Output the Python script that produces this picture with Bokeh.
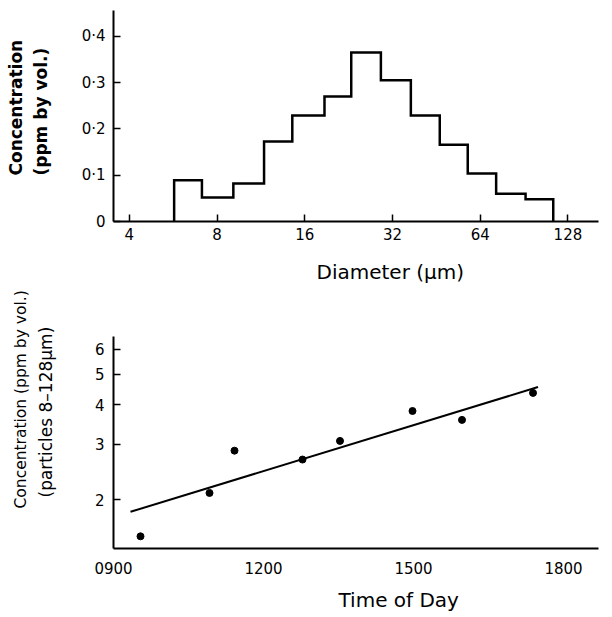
from bokeh.plotting import figure
from bokeh.models import FixedTicker, Title, LinearAxis
from bokeh.layouts import column
from bokeh.embed import file_html
from bokeh.resources import INLINE

FONT = "DejaVu Sans"

# ---- Top panel: size distribution (histogram, third-octave bins) ----
bin_edges_um = [5.7, 7.1, 9.1, 11.6, 14.5, 18.7, 23.1, 29.2, 37.0, 46.5, 58.0, 72.6, 91.6, 114.0]
bin_conc_ppm = [0.089, 0.052, 0.082, 0.173, 0.229, 0.270, 0.365, 0.305, 0.229, 0.166, 0.104, 0.060, 0.048]
diam_ticks = [4, 8, 16, 32, 64, 128]
diam_tick_labels = ["4", "8", "16", "32", "64", "128"]
conc_ticks = [0, 0.1, 0.2, 0.3, 0.4]
conc_tick_labels = ["0", "0·1", "0·2", "0·3", "0·4"]

# ---- Bottom panel: concentration vs time of day ----
obs_time_h = [9.54, 10.92, 11.42, 12.78, 13.53, 14.98, 15.97, 17.39]
obs_conc = [1.53, 2.10, 2.86, 2.68, 3.07, 3.82, 3.58, 4.36]
fit_time_h = [9.34, 17.49]
fit_conc = [1.83, 4.55]
time_ticks = [9, 12, 15, 18]
time_tick_labels = ["0900", "1200", "1500", "1800"]
conc2_ticks = [2, 3, 4, 5, 6]
conc2_tick_labels = ["2", "3", "4", "5", "6"]


def style_axis(ax, tick_in=7, tick_color="black"):
    ax.axis_line_color = "black"
    ax.axis_line_width = 2
    ax.major_tick_in = tick_in
    ax.major_tick_out = 0
    ax.major_tick_line_width = 1.5
    ax.major_tick_line_color = tick_color
    ax.minor_tick_line_color = None
    ax.major_label_text_font = FONT
    ax.major_label_text_font_size = "15px"
    ax.major_label_text_color = "black"


def spacer(size, at):
    # invisible axis with one hidden tick: only reserves space between panels
    return LinearAxis(ticker=FixedTicker(ticks=[at]), major_label_overrides={at: ""},
                      axis_line_color=None, major_tick_in=0, major_tick_out=size,
                      major_label_standoff=0, major_label_text_font_size="1px",
                      major_tick_line_color=None, minor_tick_line_color=None,
                      minor_tick_in=0, minor_tick_out=0)


def title(text, size, offset, standoff, style="normal", valign="bottom"):
    return Title(text=text, align="left", offset=offset, vertical_align=valign,
                 standoff=standoff, text_font=FONT, text_font_size=size,
                 text_font_style=style, text_color="black")


# ---------- top figure ----------
p1 = figure(width=604, height=286, x_axis_type="log",
            x_range=(3.53, 163), y_range=(0, 0.456),
            output_backend="svg", toolbar_location=None,
            min_border_left=113, min_border_right=0,
            min_border_top=10, min_border_bottom=65)
p1.outline_line_color = None
p1.grid.visible = False

p1.xaxis.ticker = FixedTicker(ticks=diam_ticks)
p1.xaxis.major_label_overrides = {t: l for t, l in zip(diam_ticks, diam_tick_labels)}
p1.yaxis.ticker = FixedTicker(ticks=conc_ticks)
p1.yaxis.major_label_overrides = {t: l for t, l in zip(conc_ticks, conc_tick_labels)}
style_axis(p1.xaxis[0])
style_axis(p1.yaxis[0])
p1.xaxis.major_label_standoff = 6
p1.yaxis.major_label_standoff = 8

xs, ys = [bin_edges_um[0]], [0.0]
for i, h in enumerate(bin_conc_ppm):
    xs += [bin_edges_um[i], bin_edges_um[i + 1]]
    ys += [h, h]
xs.append(bin_edges_um[-1])
ys.append(0.0)
p1.line(xs, ys, line_color="black", line_width=2.5, line_join="miter")

p1.add_layout(spacer(27, 0.2), "left")
p1.add_layout(title("(ppm by vol.)", "17px", 46, 2, "bold"), "left")
p1.add_layout(title("Concentration", "17px", 46, 4, "bold"), "left")
p1.add_layout(spacer(15, 10), "below")
p1.add_layout(title("Diameter (µm)", "20px", 203, 0), "below")

# ---------- bottom figure ----------
p2 = figure(width=604, height=330, y_axis_type="log",
            x_range=(9.0, 18.70), y_range=(1.40, 6.58),
            output_backend="svg", toolbar_location=None,
            min_border_left=111, min_border_right=6,
            min_border_top=50, min_border_bottom=68)
p2.outline_line_color = None
p2.grid.visible = False

p2.xaxis.ticker = FixedTicker(ticks=time_ticks)
p2.xaxis.major_label_overrides = {t: l for t, l in zip(time_ticks, time_tick_labels)}
p2.yaxis.ticker = FixedTicker(ticks=conc2_ticks)
p2.yaxis.major_label_overrides = {t: l for t, l in zip(conc2_ticks, conc2_tick_labels)}
style_axis(p2.xaxis[0], tick_in=0, tick_color=None)
style_axis(p2.yaxis[0])
p2.xaxis.major_label_standoff = 13
p2.yaxis.major_label_standoff = 9

p2.line(fit_time_h, fit_conc, line_color="black", line_width=2)
p2.scatter(obs_time_h, obs_conc, size=7, color="black")

p2.add_layout(spacer(35, 3), "left")
p2.add_layout(title("(particles 8–128µm)", "17px", 51, 2), "left")
p2.add_layout(title("Concentration (ppm by vol.)", "15.5px", 40, 5), "left")
p2.add_layout(spacer(8, 12), "below")
p2.add_layout(title("Time of Day", "20px", 225, 2), "below")

layout = column(p1, p2, spacing=0)
open("out.html", "w").write(file_html(layout, INLINE))
